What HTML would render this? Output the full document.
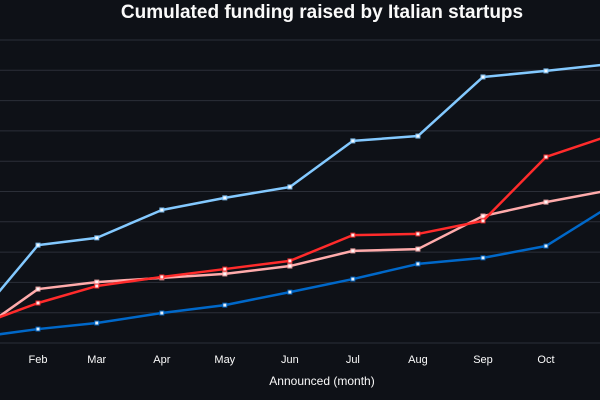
<!DOCTYPE html>
<html><head><meta charset="utf-8"><style>
html,body{margin:0;padding:0;background:#0e1117;}
svg{display:block;font-family:"Liberation Sans",sans-serif;}
</style></head><body>
<svg id="chart" width="600" height="400">
<text x="322" y="18" text-anchor="middle" fill="#fafafa" font-size="19" font-weight="bold">Cumulated funding raised by Italian startups</text>
<g id="grid"></g>
<g id="xticks"></g>
<g id="series"></g>
<text x="322" y="385" text-anchor="middle" fill="#fafafa" font-size="12">Announced (month)</text>
</svg>
<script>
const months = ["Jan","Feb","Mar","Apr","May","Jun","Jul","Aug","Sep","Oct","Nov"];
const monthDays = [0,31,59,90,120,151,181,212,243,273,304];
const tickLabels = ["Feb","Mar","Apr","May","Jun","Jul","Aug","Sep","Oct"];
const gridValues = [0,100,200,300,400,500,600,700,800,900,1000];
const seriesLightBlue = [66,323,347,439,479,515,667,683,878,898,921];
const seriesRed = [53,132,188,218,244,271,356,360,403,614,686];
const seriesPink = [26,178,201,215,228,254,304,310,419,465,505];
const seriesBlue = [17,46,66,99,125,168,211,261,281,320,454];

const NS="http://www.w3.org/2000/svg";
function x(d){return 38+(d-31)*2.099;}
function y(v){return 343-v*0.303;}
function mk(t,a){const e=document.createElementNS(NS,t);for(const k in a)e.setAttribute(k,a[k]);return e;}
const grid=document.getElementById('grid');
gridValues.forEach(v=>{
  const l=mk('line',{x1:0,x2:600,y1:y(v),y2:y(v),stroke:'#2b2f38','stroke-width':1});
  
  
  grid.appendChild(l);
});
const xt=document.getElementById('xticks');
tickLabels.forEach(m=>{
  const i=months.indexOf(m);
  const t=mk('text',{x:x(monthDays[i]),y:363,'text-anchor':'middle',fill:'#fafafa','font-size':11});
  t.textContent=m;
  
  
  xt.appendChild(t);
});
const sg=document.getElementById('series');
[[seriesLightBlue,'#83c9ff','line-light-blue'],[seriesBlue,'#0068c9','line-blue'],[seriesPink,'#ffabab','line-pink'],[seriesRed,'#ff2b2b','line-red']].forEach(([vals,c,name])=>{
  const pts=vals.map((v,i)=>x(monthDays[i])+','+y(v)).join(' ');
  const p=mk('polyline',{points:pts,fill:'none',stroke:c,'stroke-width':2.5,'stroke-linejoin':'round'});
  
  
  sg.appendChild(p);
  vals.forEach((v,i)=>{
    const r=mk('rect',{x:x(monthDays[i])-2,y:y(v)-2,width:4,height:4,fill:'#ffffff',stroke:c,'stroke-width':1,opacity:0.9});
    
    
    sg.appendChild(r);
  });
});
</script>
</body></html>
